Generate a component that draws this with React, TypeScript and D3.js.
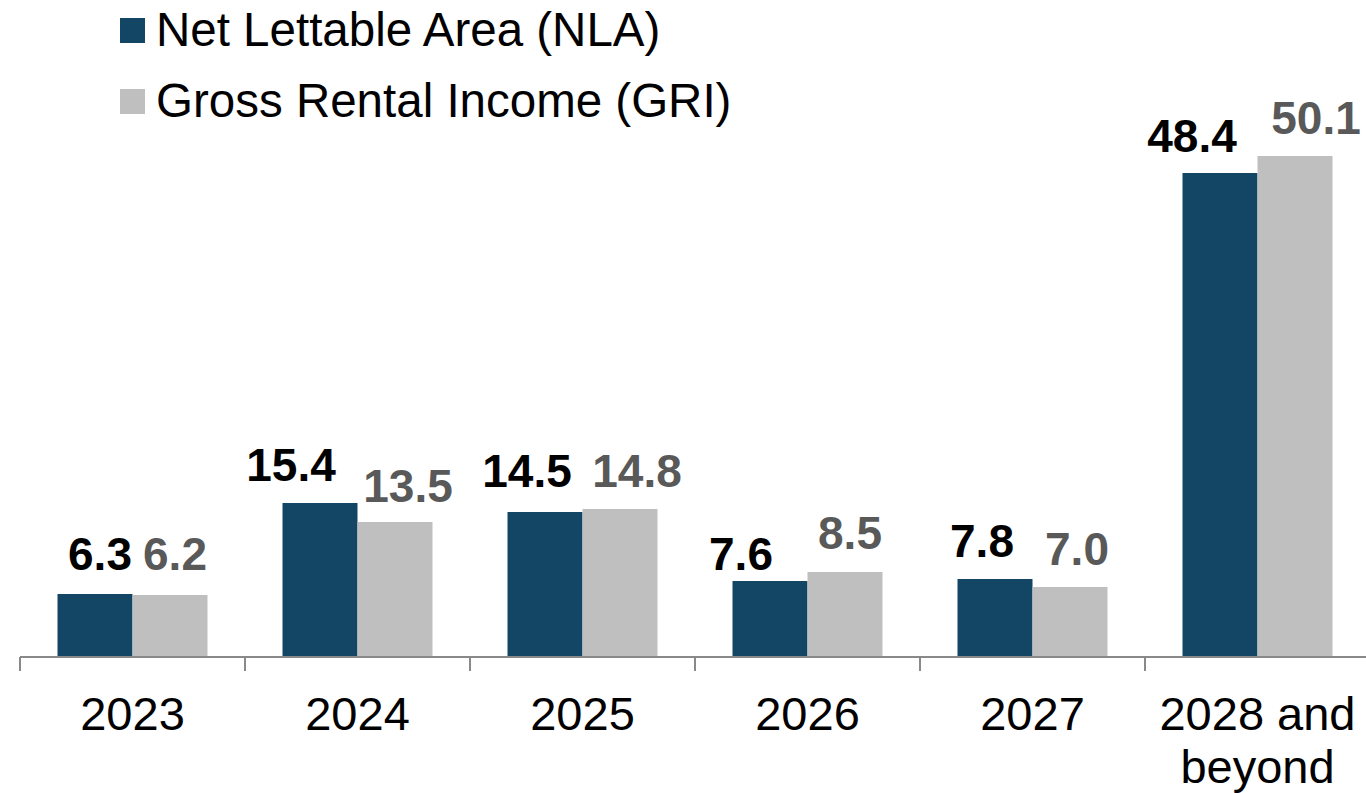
import React from "react";
import * as d3 from "d3";

const categories = ["2023", "2024", "2025", "2026", "2027", "2028 and beyond"];
const nlaValues = [6.3, 15.4, 14.5, 7.6, 7.8, 48.4];
const griValues = [6.2, 13.5, 14.8, 8.5, 7.0, 50.1];
const seriesNames = ["Net Lettable Area (NLA)", "Gross Rental Income (GRI)"];

// manual label nudges (as in the source chart)
const nlaLabelDx = [5, -29, -18, -29, -13, -28];
const griLabelDx = [5, 13, 17, 5, 7, 21];
const nlaLabelGap = [24, 22, 25, 11, 22, 21];
const griLabelGap = [25, 20, 22, 23, 22, 22];

const W = 1366;
const H = 793;
const NLA_COLOR = "#134665";
const GRI_COLOR = "#bfbfbf";
const FONT = "'Liberation Sans', Arial, sans-serif";

export default function App() {
  const x = d3.scaleBand<string>().domain(categories).range([20, 1370]).padding(0);
  const inner = d3
    .scaleBand<string>()
    .domain(["nla", "gri"])
    .range([0, x.bandwidth()])
    .paddingInner(0)
    .paddingOuter(0.5);
  const y = d3.scaleLinear().domain([0, 50]).range([657, 157]);
  const baseY = y(0);

  const series = [
    { key: "nla", values: nlaValues, color: NLA_COLOR, text: "#000000", dx: nlaLabelDx, gap: nlaLabelGap },
    { key: "gri", values: griValues, color: GRI_COLOR, text: "#595959", dx: griLabelDx, gap: griLabelGap },
  ];

  const legendColors = [NLA_COLOR, GRI_COLOR];

  return (
    <svg
      width={W}
      height={H}
      style={{ position: "absolute", left: 0, top: 0, display: "block", background: "#fff" }}
      fontFamily={FONT}
    >
      {/* legend */}
      {seriesNames.map((name, i) => (
        <g key={name} transform={`translate(0, ${i * 71})`}>
          <rect x={120} y={18} width={25} height={25} fill={legendColors[i]} />
          <text x={156} y={46} fontSize={47.5} fill="#000">
            {name}
          </text>
        </g>
      ))}

      {/* bars */}
      {series.map((s) =>
        categories.map((c, i) => {
          const bx = (x(c) as number) + (inner(s.key) as number);
          const top = y(s.values[i]);
          return (
            <rect
              key={s.key + c}
              x={bx}
              y={top}
              width={inner.bandwidth()}
              height={baseY - top}
              fill={s.color}
            />
          );
        })
      )}

      {/* value labels */}
      {series.map((s) =>
        categories.map((c, i) => {
          const cx = (x(c) as number) + (inner(s.key) as number) + inner.bandwidth() / 2 + s.dx[i];
          const top = y(s.values[i]);
          return (
            <text
              key={"l" + s.key + c}
              x={cx}
              y={top - s.gap[i]}
              textAnchor="middle"
              fontSize={46}
              fontWeight="bold"
              fill={s.text}
            >
              {s.values[i].toFixed(1)}
            </text>
          );
        })
      )}

      {/* axis */}
      <line x1={20} x2={1370} y1={baseY} y2={baseY} stroke="#898989" strokeWidth={2} />
      {categories.map((c) => (
        <line
          key={"t" + c}
          x1={x(c) as number}
          x2={x(c) as number}
          y1={baseY}
          y2={baseY + 14}
          stroke="#898989"
          strokeWidth={2}
        />
      ))}
      <line x1={1370} x2={1370} y1={baseY} y2={baseY + 14} stroke="#898989" strokeWidth={2} />

      {categories.map((c) => {
        const cx = (x(c) as number) + x.bandwidth() / 2;
        const words = c.split(" ");
        const lines = words.length > 2 ? [words.slice(0, 2).join(" "), words.slice(2).join(" ")] : [c];
        return (
          <text key={"c" + c} x={cx} y={730} textAnchor="middle" fontSize={47} fill="#000">
            {lines.map((ln, j) => (
              <tspan key={j} x={cx} dy={j === 0 ? 0 : 53}>
                {ln}
              </tspan>
            ))}
          </text>
        );
      })}
    </svg>
  );
}
